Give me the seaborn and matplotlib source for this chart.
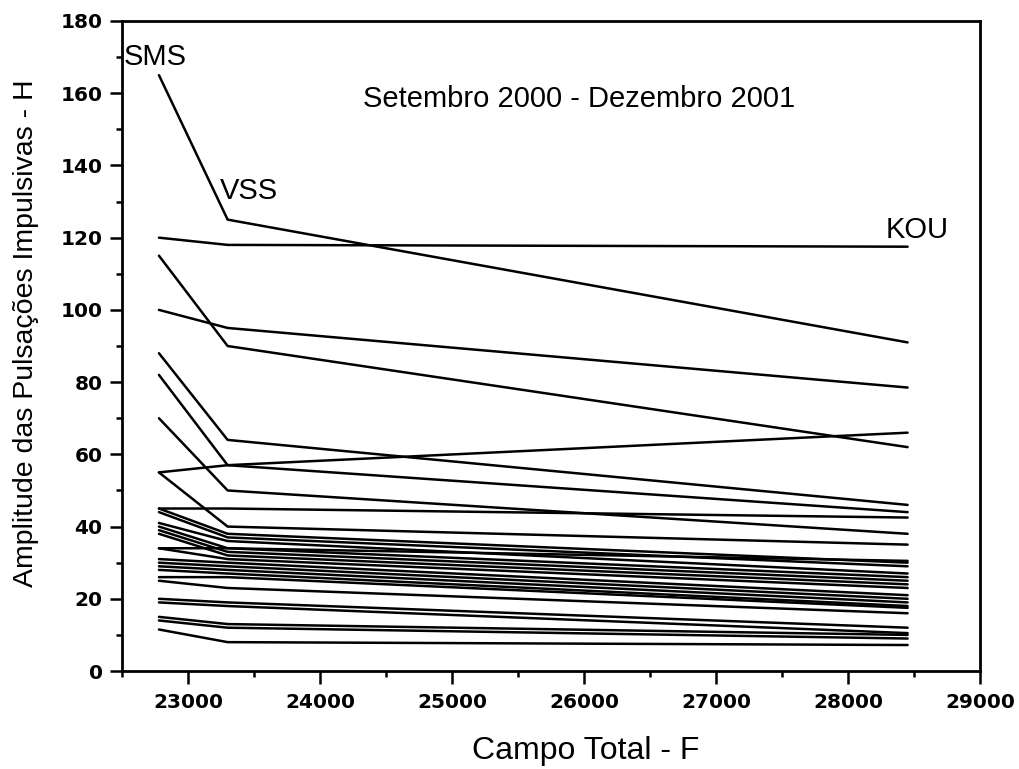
import numpy as np
import pandas as pd
import seaborn as sns
import matplotlib.pyplot as plt
from matplotlib.ticker import MultipleLocator

# station field values (nT) and the amplitude of each event at the three stations
stations = ['SMS', 'VSS', 'KOU']
campo = [22780, 23300, 28450]

sms = [165, 120, 115, 100, 88, 82, 70, 55, 55, 45, 45, 44, 41, 40, 39, 38, 34, 34,
       31, 30, 29, 28, 26, 25, 20, 19, 15, 14, 11.5]
vss = [125, 118, 90, 95, 64, 57, 50, 57, 40, 45, 38, 37, 36, 34, 33, 32, 34, 31,
       30, 29, 28, 27, 26, 23, 19, 18, 13, 12, 8]
kou = [91, 117.5, 62, 78.5, 46, 44, 38, 66, 35, 42.5, 30, 29, 27, 26, 25, 24, 30.5, 23,
       21, 20, 19, 18, 17.5, 16, 12, 10.5, 10, 9, 7.2]

rows = []
for i in range(len(sms)):
    for x, y in zip(campo, [sms[i], vss[i], kou[i]]):
        rows.append({'evento': i, 'F': x, 'H': y})
df = pd.DataFrame(rows)

sns.set_theme(style='ticks')
plt.rcParams['font.family'] = ['Liberation Sans', 'DejaVu Sans']
plt.rcParams['text.color'] = 'black'
plt.rcParams['axes.labelcolor'] = 'black'
plt.rcParams['xtick.color'] = 'black'
plt.rcParams['ytick.color'] = 'black'
plt.rcParams['axes.edgecolor'] = 'black'

fig = plt.figure(figsize=(10.2, 7.69), dpi=100)
ax = fig.add_axes([0.1196, 0.1274, 0.8414, 0.8453])

sns.lineplot(data=df, x='F', y='H', units='evento', estimator=None,
             color='black', linewidth=1.8, ax=ax)

ax.set_xlim(22500, 29000)
ax.set_ylim(0, 180)
ax.xaxis.set_major_locator(MultipleLocator(1000))
ax.xaxis.set_minor_locator(MultipleLocator(500))
ax.yaxis.set_major_locator(MultipleLocator(20))
ax.yaxis.set_minor_locator(MultipleLocator(10))
ax.tick_params(which='major', length=9, width=1.8, direction='out')
ax.tick_params(which='minor', length=4.5, width=1.8, direction='out')
ax.tick_params(axis='x', pad=7)
ax.tick_params(axis='y', pad=5)
for lab in ax.get_xticklabels() + ax.get_yticklabels():
    lab.set_fontweight('bold')
    lab.set_family('DejaVu Sans')
    lab.set_fontsize(14.5)
for s in ax.spines.values():
    s.set_linewidth(2)
    s.set_visible(True)

ax.set_xlabel('Campo Total - F', fontsize=23)
ax.xaxis.set_label_coords(0.54, -0.1)
ax.set_ylabel('Amplitude das Pulsações Impulsivas - H', fontsize=20.5)
ax.yaxis.set_label_coords(-0.097, 0.52)

ax.text(25960, 158.5, 'Setembro 2000 - Dezembro 2001', fontsize=21, ha='center', va='center')
ax.text(22510, 170, 'SMS', fontsize=21, ha='left', va='center')
ax.text(23240, 133, 'VSS', fontsize=21, ha='left', va='center')
ax.text(28280, 122, 'KOU', fontsize=21, ha='left', va='center')

plt.savefig('out.png', dpi=100)
